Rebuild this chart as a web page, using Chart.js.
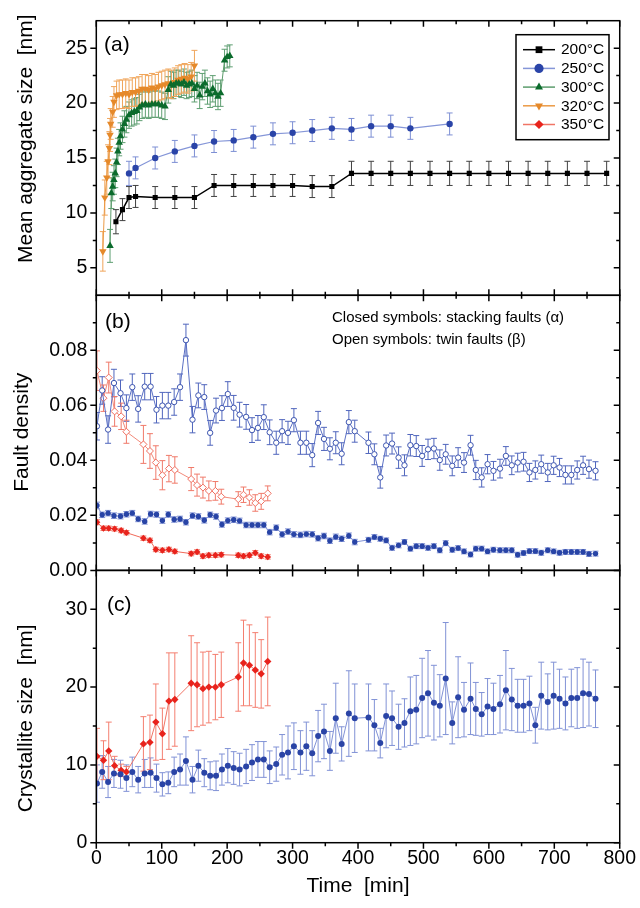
<!DOCTYPE html>
<html>
<head>
<meta charset="utf-8">
<script src="https://cdn.jsdelivr.net/npm/chart.js@4"></script>
<style>
  body { margin: 0; background: #fff; }
  canvas { display: block; }
</style>
</head>
<body>
<canvas id="grafico" width="640" height="908"></canvas>
<script>
  // Tick labels
  var xTicks = [0, 100, 200, 300, 400, 500, 600, 700, 800];
  var yTicksA = [5, 10, 15, 20, 25];
  var yTicksB = [0, 0.02, 0.04, 0.06, 0.08];
  var yTicksC = [0, 10, 20, 30];

  // Legend of panel (a)
  var temperatures = ['200°C', '250°C', '300°C', '320°C', '350°C'];

  // (a) Mean aggregate size [nm]
  var tA200 = [30, 40, 50, 60, 90, 120, 150, 180, 210, 240, 270, 300, 330, 360, 390, 420, 450, 480, 510, 540, 570, 600, 630, 660, 690, 720, 750, 780];
  var sizeA200 = [9.2, 10.3, 11.4, 11.5, 11.4, 11.4, 11.4, 12.5, 12.5, 12.5, 12.5, 12.5, 12.4, 12.4, 13.6, 13.6, 13.6, 13.6, 13.6, 13.6, 13.6, 13.6, 13.6, 13.6, 13.6, 13.6, 13.6, 13.6];
  var errA200 = [1.1, 1.0, 1.0, 1.0, 1.0, 1.0, 1.0, 1.0, 1.0, 1.0, 1.0, 1.0, 1.0, 1.0, 1.1, 1.1, 1.1, 1.1, 1.1, 1.1, 1.1, 1.1, 1.1, 1.1, 1.1, 1.1, 1.1, 1.1];

  var tA250 = [50, 60, 90, 120, 150, 180, 210, 240, 270, 300, 330, 360, 390, 420, 450, 480, 540];
  var sizeA250 = [13.6, 14.1, 15.0, 15.6, 16.1, 16.5, 16.6, 16.9, 17.2, 17.3, 17.5, 17.7, 17.6, 17.9, 17.9, 17.7, 18.1];
  var errA250 = [1.1, 1.0, 1.0, 1.0, 1.0, 1.0, 1.0, 1.0, 1.0, 1.0, 1.0, 1.0, 1.0, 1.0, 1.0, 1.0, 1.0];

  var tA300 = [21, 23, 25, 27, 29, 31, 33, 35, 37, 40, 43, 46, 50, 54, 58, 62, 66, 70, 75, 80, 85, 90, 95, 100, 105, 110, 114, 118, 122, 126, 130, 134, 138, 142, 146, 150, 154, 158, 162, 166, 170, 174, 178, 182, 186, 190, 196, 200, 204];
  var sizeA300 = [7.0, 11.8, 12.4, 13.0, 13.6, 14.6, 15.6, 16.4, 17.0, 17.6, 18.1, 18.5, 18.9, 19.1, 19.2, 19.3, 19.6, 19.8, 19.9, 19.8, 19.9, 19.9, 19.9, 19.8, 19.7, 21.2, 21.7, 21.6, 21.8, 21.8, 21.7, 21.9, 21.6, 21.7, 21.8, 21.3, 21.6, 20.7, 21.5, 21.8, 21.1, 20.8, 21.3, 20.9, 20.6, 20.9, 23.9, 24.2, 24.3];
  var errA300 = [1.5, 1.4, 1.3, 1.3, 1.3, 1.3, 1.2, 1.2, 1.2, 1.2, 1.2, 1.2, 1.2, 1.2, 1.2, 1.2, 1.2, 1.2, 1.2, 1.2, 1.2, 1.2, 1.2, 1.2, 1.2, 1.2, 1.2, 1.2, 1.2, 1.2, 1.2, 1.2, 1.2, 1.2, 1.2, 1.2, 1.2, 1.2, 1.2, 1.2, 1.2, 1.2, 1.2, 1.2, 1.2, 1.2, 1.0, 1.0, 1.0];

  var tA320 = [10, 13, 16, 18, 20, 21, 22, 25, 27, 31, 35, 40, 45, 50, 55, 60, 65, 70, 75, 80, 85, 90, 95, 100, 105, 110, 115, 120, 125, 130, 135, 140, 145, 150];
  var sizeA320 = [6.5, 11.4, 13.2, 14.7, 15.9, 17.1, 18.1, 19.2, 20.1, 20.7, 20.8, 20.8, 20.9, 20.8, 21.0, 21.0, 21.1, 21.3, 21.3, 21.2, 21.4, 21.3, 21.5, 21.6, 21.7, 21.8, 21.7, 21.9, 22.1, 22.2, 22.3, 22.2, 22.4, 23.4];
  var errA320 = [1.8, 1.6, 1.5, 1.5, 1.5, 1.5, 1.4, 1.4, 1.4, 1.3, 1.3, 1.3, 1.3, 1.3, 1.3, 1.3, 1.3, 1.3, 1.3, 1.3, 1.3, 1.3, 1.3, 1.3, 1.3, 1.3, 1.3, 1.3, 1.3, 1.3, 1.3, 1.3, 1.3, 1.4];

  // (b) Fault density and (c) crystallite size, 250°C
  var t250 = [1, 9, 18, 27, 37, 46, 55, 64, 74, 83, 92, 101, 110, 119, 128, 137, 147, 156, 165, 174, 183, 192, 201, 210, 219, 229, 238, 247, 256, 265, 275, 284, 293, 302, 312, 321, 330, 339, 348, 357, 366, 375, 386, 395,
    416, 425, 434, 443, 452, 462, 471, 480, 489, 498, 507, 516, 525, 534, 544, 553, 562, 572, 580, 589, 598, 607, 617, 626, 635, 644, 653, 662, 671, 680, 690, 699, 708, 717, 726, 735, 744, 753, 763];
  var twinB250 = [0.0524, 0.0654, 0.0512, 0.0681, 0.0644, 0.0590, 0.0666, 0.0587, 0.0668, 0.0668, 0.0584, 0.0599, 0.0599, 0.0612, 0.0666, 0.0837, 0.0548, 0.0636, 0.0630, 0.0500, 0.0581, 0.0590, 0.0641, 0.0591, 0.0566, 0.0558, 0.0510, 0.0518, 0.0557, 0.0502, 0.0464, 0.0506, 0.0500, 0.0546, 0.0464, 0.0464, 0.0419, 0.0536, 0.0478, 0.0442, 0.0464, 0.0424, 0.0539, 0.0506,
    0.0464, 0.0422, 0.0338, 0.0454, 0.0461, 0.0410, 0.0382, 0.0455, 0.0452, 0.0416, 0.0440, 0.0443, 0.0401, 0.0422, 0.0380, 0.0410, 0.0392, 0.0455, 0.0365, 0.0338, 0.0386, 0.0362, 0.0370, 0.0416, 0.0382, 0.0392, 0.0395, 0.0356, 0.0365, 0.0386, 0.0356, 0.0382, 0.0374, 0.0347, 0.0347, 0.0365, 0.0382, 0.0368, 0.0362];
  var errTwinB250 = [0.0050, 0.0050, 0.0050, 0.0050, 0.0048, 0.0048, 0.0048, 0.0048, 0.0048, 0.0048, 0.0048, 0.0048, 0.0048, 0.0048, 0.0048, 0.0058, 0.0048, 0.0045, 0.0045, 0.0045, 0.0045, 0.0045, 0.0045, 0.0045, 0.0045, 0.0045, 0.0045, 0.0045, 0.0045, 0.0045, 0.0042, 0.0042, 0.0042, 0.0042, 0.0042, 0.0042, 0.0042, 0.0042, 0.0042, 0.0040, 0.0040, 0.0040, 0.0042, 0.0040,
    0.0039, 0.0038, 0.0039, 0.0038, 0.0038, 0.0039, 0.0038, 0.0039, 0.0038, 0.0038, 0.0037, 0.0037, 0.0037, 0.0036, 0.0036, 0.0036, 0.0036, 0.0036, 0.0035, 0.0035, 0.0035, 0.0034, 0.0034, 0.0034, 0.0034, 0.0034, 0.0034, 0.0033, 0.0033, 0.0033, 0.0033, 0.0033, 0.0033, 0.0033, 0.0033, 0.0033, 0.0033, 0.0033, 0.0033];
  var stackB250 = [0.0236, 0.0202, 0.0208, 0.0199, 0.0197, 0.0204, 0.0208, 0.0187, 0.0178, 0.0205, 0.0203, 0.0181, 0.0203, 0.0185, 0.0187, 0.0175, 0.0199, 0.0196, 0.0182, 0.0202, 0.0196, 0.0167, 0.0181, 0.0184, 0.0180, 0.0165, 0.0165, 0.0165, 0.0165, 0.0139, 0.0155, 0.0131, 0.0141, 0.0131, 0.0129, 0.0132, 0.0131, 0.0117, 0.0125, 0.0108, 0.0122, 0.0115, 0.0126, 0.0103,
    0.0111, 0.0121, 0.0115, 0.0109, 0.0082, 0.0091, 0.0103, 0.0079, 0.0088, 0.0088, 0.0082, 0.0088, 0.0073, 0.0099, 0.0075, 0.0081, 0.0069, 0.0058, 0.0079, 0.0079, 0.0069, 0.0075, 0.0073, 0.0073, 0.0073, 0.0057, 0.0063, 0.0070, 0.0070, 0.0064, 0.0073, 0.0069, 0.0064, 0.0067, 0.0067, 0.0067, 0.0067, 0.0060, 0.0061];
  var errStackB250 = [0.0012, 0.0010, 0.0010, 0.0010, 0.0010, 0.0010, 0.0010, 0.0010, 0.0010, 0.0010, 0.0010, 0.0010, 0.0010, 0.0010, 0.0010, 0.0010, 0.0010, 0.0010, 0.0010, 0.0010, 0.0010, 0.0010, 0.0010, 0.0010, 0.0010, 0.0010, 0.0010, 0.0010, 0.0010, 0.0010, 0.0010, 0.0010, 0.0010, 0.0010, 0.0010, 0.0010, 0.0010, 0.0010, 0.0010, 0.0010, 0.0010, 0.0010, 0.0010, 0.0010,
    0.0009, 0.0009, 0.0009, 0.0009, 0.0009, 0.0009, 0.0009, 0.0009, 0.0009, 0.0009, 0.0009, 0.0009, 0.0009, 0.0009, 0.0009, 0.0009, 0.0009, 0.0009, 0.0009, 0.0009, 0.0009, 0.0009, 0.0009, 0.0009, 0.0009, 0.0009, 0.0009, 0.0009, 0.0009, 0.0009, 0.0009, 0.0009, 0.0009, 0.0009, 0.0009, 0.0009, 0.0009, 0.0009, 0.0009];
  var sizeC250 = [7.6, 9.1, 7.8, 8.9, 8.8, 8.3, 9.1, 8.1, 8.9, 9.0, 8.3, 7.5, 7.7, 9.1, 9.4, 10.5, 8.1, 9.9, 9.0, 8.6, 8.6, 9.4, 9.9, 9.6, 9.4, 9.8, 10.3, 10.7, 10.7, 9.7, 10.1, 11.3, 11.6, 12.4, 11.6, 12.4, 11.5, 13.7, 14.3, 11.8, 16.0, 12.7, 16.6, 16.0,
    16.1, 15.1, 12.8, 16.3, 16.0, 14.9, 15.4, 16.9, 17.1, 18.6, 19.2, 18.0, 17.6, 21.1, 15.4, 18.7, 17.1, 18.5, 17.2, 16.5, 17.5, 17.2, 17.8, 19.6, 18.4, 17.6, 17.6, 17.9, 15.1, 18.9, 18.1, 18.9, 18.5, 17.9, 18.6, 18.6, 19.2, 19.1, 18.5];
  var errC250 = [2.4, 2.1, 2.0, 1.8, 1.8, 1.7, 1.9, 1.7, 1.8, 1.9, 1.8, 1.5, 1.4, 1.9, 2.0, 3.1, 1.7, 2.0, 1.8, 1.8, 1.9, 2.0, 2.2, 2.1, 2.1, 2.2, 2.3, 2.3, 2.3, 2.1, 2.2, 2.6, 3.4, 3.0, 2.8, 3.1, 2.9, 3.3, 3.5, 2.5, 4.5, 2.2, 5.5, 4.4,
    4.3, 3.3, 1.9, 4.1, 3.5, 2.9, 3.1, 4.4, 4.4, 5.1, 5.5, 4.8, 4.0, 7.2, 2.7, 5.2, 3.5, 4.6, 3.4, 2.8, 3.6, 3.3, 3.7, 5.1, 4.0, 3.4, 3.4, 3.5, 2.3, 4.3, 3.6, 4.3, 3.8, 3.4, 3.7, 3.9, 4.4, 4.1, 3.7];

  // (b) Fault density and (c) crystallite size, 350°C
  var t350 = [1, 11, 19, 28, 38, 46, 72, 82, 91, 101, 111, 120, 145, 154, 163, 172, 182, 191, 217, 225, 234, 243, 252, 262];
  var twinB350 = [0.0726, 0.0626, 0.0701, 0.0578, 0.0560, 0.0504, 0.0458, 0.0434, 0.0392, 0.0346, 0.0370, 0.0365, 0.0332, 0.0310, 0.0301, 0.0289, 0.0289, 0.0268, 0.0259, 0.0275, 0.0265, 0.0245, 0.0251, 0.0280];
  var errTwinB350 = [0.0072, 0.0048, 0.0056, 0.0054, 0.0048, 0.0042, 0.0069, 0.0063, 0.0061, 0.0053, 0.0048, 0.0048, 0.0042, 0.0040, 0.0038, 0.0036, 0.0034, 0.0027, 0.0027, 0.0028, 0.0028, 0.0030, 0.0029, 0.0027];
  var stackB350 = [0.0175, 0.0153, 0.0153, 0.0151, 0.0145, 0.0137, 0.0117, 0.0109, 0.0076, 0.0073, 0.0076, 0.0069, 0.0061, 0.0067, 0.0052, 0.0055, 0.0055, 0.0057, 0.0055, 0.0052, 0.0055, 0.0064, 0.0052, 0.0049];
  var errStackB350 = [0.0009, 0.0008, 0.0008, 0.0008, 0.0008, 0.0008, 0.0008, 0.0008, 0.0008, 0.0008, 0.0008, 0.0008, 0.0008, 0.0008, 0.0008, 0.0008, 0.0008, 0.0008, 0.0008, 0.0008, 0.0008, 0.0008, 0.0008, 0.0008];
  var sizeC350 = [11.1, 10.6, 11.8, 9.9, 9.3, 9.1, 12.7, 12.9, 15.5, 14.0, 18.2, 18.4, 20.5, 20.3, 19.8, 20.0, 20.0, 20.3, 21.3, 23.1, 22.8, 22.2, 21.7, 23.3];
  var errC350 = [3.6, 2.5, 3.7, 1.2, 0.8, 0.7, 3.5, 3.5, 4.9, 3.3, 6.2, 6.0, 6.1, 5.4, 4.7, 4.6, 4.2, 4.2, 4.4, 5.5, 5.2, 4.8, 4.4, 5.7];

  var FONT = "'Liberation Sans', Arial, sans-serif";

  // Combine time and value arrays into points
  function makePoints(times, values) {
    return times.map(function (t, i) { return { x: t, y: values[i] }; });
  }

  // One dataset with its style
  function serie(label, axis, times, values, errors, s) {
    return {
      label: label,
      yAxisID: axis,
      data: makePoints(times, values),
      errors: errors,
      errorColor: s.err,
      showLine: true,
      borderColor: s.line,
      borderWidth: s.lw || 1,
      pointStyle: s.shape,
      pointRotation: s.rot || 0,
      pointRadius: s.r,
      pointBackgroundColor: s.fill,
      pointBorderColor: s.edge || s.fill,
      pointBorderWidth: s.edge ? 1 : 0,
      legend: s.legend
    };
  }

  var styles = {
    a200: { line: '#000000', lw: 1.5, err: '#404040', shape: 'rect', r: 3.6, fill: '#000000' },
    a250: { line: '#8596d8', lw: 1.2, err: '#7d8fd4', shape: 'circle', r: 3.2, fill: '#2a44a8' },
    a300: { line: '#5c9c6c', lw: 1, err: '#5f9f72', shape: 'triangle', r: 4.3, fill: '#0b6b2c' },
    a320: { line: '#eb9a45', lw: 1, err: '#f0a55a', shape: 'triangle', rot: 180, r: 4.3, fill: '#e5892a' },
    a350: { line: '#f07566', lw: 1, err: '#f07566', shape: 'rectRot', r: 4.3, fill: '#e8231c' },
    bTwin250: { line: '#5b70c4', err: '#5066bd', shape: 'circle', r: 2.7, fill: '#ffffff', edge: '#3d55b0' },
    bStack250: { line: '#7f90d4', err: '#7f90d4', shape: 'circle', r: 2.7, fill: '#2844a6' },
    bTwin350: { line: '#f28a7a', err: '#f07a6a', shape: 'rectRot', r: 3.5, fill: '#ffffff', edge: '#ef6f60' },
    bStack350: { line: '#f06a5a', err: '#f07a6a', shape: 'rectRot', r: 3.4, fill: '#e8231c' },
    c350: { line: '#f07566', err: '#f47f70', shape: 'rectRot', r: 3.7, fill: '#e8231c' },
    c250: { line: '#8192d6', err: '#8192d6', shape: 'circle', r: 3.0, fill: '#2a44a6' }
  };

  var dati = {
    datasets: [
      serie(temperatures[0], 'yA', tA200, sizeA200, errA200, styles.a200),
      serie(temperatures[1], 'yA', tA250, sizeA250, errA250, styles.a250),
      serie(temperatures[2], 'yA', tA300, sizeA300, errA300, styles.a300),
      serie(temperatures[3], 'yA', tA320, sizeA320, errA320, styles.a320),
      serie('250°C twin', 'yB', t250, twinB250, errTwinB250, styles.bTwin250),
      serie('350°C twin', 'yB', t350, twinB350, errTwinB350, styles.bTwin350),
      serie('250°C stacking', 'yB', t250, stackB250, errStackB250, styles.bStack250),
      serie('350°C stacking', 'yB', t350, stackB350, errStackB350, styles.bStack350),
      serie('250°C size', 'yC', t250, sizeC250, errC250, styles.c250),
      serie('350°C size', 'yC', t350, sizeC350, errC350, styles.c350)
    ]
  };

  // Vertical error bars with caps, drawn under the symbols
  var errorBars = {
    id: 'errorBars',
    beforeDatasetsDraw: function (chart) {
      var ctx = chart.ctx;
      chart.data.datasets.forEach(function (ds, i) {
        if (!ds.errors) return;
        var meta = chart.getDatasetMeta(i);
        var scale = chart.scales[ds.yAxisID];
        ctx.save();
        ctx.beginPath();
        ctx.rect(chart.chartArea.left, scale.top, chart.chartArea.right - chart.chartArea.left, scale.bottom - scale.top);
        ctx.clip();
        ctx.strokeStyle = ds.errorColor;
        ctx.lineWidth = 1;
        meta.data.forEach(function (pt, j) {
          var v = ds.data[j].y, e = ds.errors[j];
          var y1 = scale.getPixelForValue(v + e);
          var y2 = scale.getPixelForValue(v - e);
          ctx.beginPath();
          ctx.moveTo(pt.x, y1); ctx.lineTo(pt.x, y2);
          ctx.moveTo(pt.x - 3, y1); ctx.lineTo(pt.x + 3, y1);
          ctx.moveTo(pt.x - 3, y2); ctx.lineTo(pt.x + 3, y2);
          ctx.stroke();
        });
        ctx.restore();
      });
    }
  };

  // Minor ticks halfway between the major ones
  function minorTicks(ticks, min, max) {
    var out = [];
    var step = ticks[1].value - ticks[0].value;
    for (var i = 0; i < ticks.length; i++) {
      var m = ticks[i].value + step / 2;
      if (m < max) out.push(m);
      if (i === 0 && ticks[0].value - step / 2 > min) out.push(ticks[0].value - step / 2);
    }
    return out;
  }

  // Panel frames with ticks on all four sides
  var frames = {
    id: 'frames',
    afterDatasetsDraw: function (chart) {
      var ctx = chart.ctx;
      var area = chart.chartArea;
      var xs = chart.scales.x;
      var xMinor = minorTicks(xs.ticks, xs.min, xs.max);
      ctx.save();
      ctx.strokeStyle = '#000';
      ctx.lineWidth = 1.5;
      ['yA', 'yB', 'yC'].forEach(function (id) {
        var s = chart.scales[id];
        ctx.strokeRect(area.left, s.top, area.right - area.left, s.bottom - s.top);
        var yMinor = minorTicks(s.ticks, s.min, s.max);
        ctx.beginPath();
        s.ticks.forEach(function (t) {
          var y = s.getPixelForValue(t.value);
          ctx.moveTo(area.left - 6, y); ctx.lineTo(area.left, y);
          ctx.moveTo(area.right - 6, y); ctx.lineTo(area.right, y);
        });
        yMinor.forEach(function (v) {
          var y = s.getPixelForValue(v);
          ctx.moveTo(area.left - 3.5, y); ctx.lineTo(area.left, y);
          ctx.moveTo(area.right - 3.5, y); ctx.lineTo(area.right, y);
        });
        var downOut = id === 'yC';
        xs.ticks.forEach(function (t) {
          var x = xs.getPixelForValue(t.value);
          ctx.moveTo(x, s.top); ctx.lineTo(x, s.top + 6);
          ctx.moveTo(x, s.bottom); ctx.lineTo(x, downOut ? s.bottom + 6 : s.bottom - 6);
        });
        xMinor.forEach(function (v) {
          var x = xs.getPixelForValue(v);
          ctx.moveTo(x, s.top); ctx.lineTo(x, s.top + 3.5);
          ctx.moveTo(x, s.bottom); ctx.lineTo(x, downOut ? s.bottom + 3.5 : s.bottom - 3.5);
        });
        ctx.stroke();
      });
      ctx.restore();
    }
  };

  // Axis titles, panel letters, legend and note
  var texts = {
    id: 'texts',
    afterDraw: function (chart) {
      var ctx = chart.ctx;
      var a = chart.scales.yA, b = chart.scales.yB, c = chart.scales.yC;
      ctx.save();
      ctx.fillStyle = '#000';
      ctx.textBaseline = 'middle';

      // y titles
      var titles = [['Mean aggregate size  [nm]', 26, a.top + 118], ['Fault density', 22, b.top + 137], ['Crystallite size  [nm]', 26, c.top + 148]];
      ctx.font = '21px ' + FONT;
      ctx.textAlign = 'center';
      titles.forEach(function (t) {
        ctx.save();
        ctx.translate(t[1], t[2]);
        ctx.rotate(-Math.PI / 2);
        ctx.fillText(t[0], 0, 0);
        ctx.restore();
      });
      ctx.fillText('Time  [min]', (chart.chartArea.left + chart.chartArea.right) / 2, 886);

      // panel letters
      ctx.textAlign = 'left';
      ctx.fillText('(a)', 104, a.top + 25);
      ctx.fillText('(b)', 105, b.top + 27);
      ctx.fillText('(c)', 107, c.top + 35);

      // note in panel (b)
      ctx.font = '15px ' + FONT;
      ctx.fillText('Closed symbols: stacking faults (α)', 332, b.top + 23);
      ctx.fillText('Open symbols: twin faults (β)', 332, b.top + 45);

      // legend box of panel (a)
      var lx = 516, ly = a.top + 14, lw = 93, lh = 105;
      ctx.lineWidth = 1.5;
      ctx.strokeStyle = '#000';
      ctx.strokeRect(lx, ly, lw, lh);
      ctx.font = '15.5px ' + FONT;
      var legendStyles = [styles.a200, styles.a250, styles.a300, styles.a320, styles.a350];
      temperatures.forEach(function (name, i) {
        var st = legendStyles[i];
        var y = ly + 15 + i * 18.7;
        ctx.strokeStyle = st.line;
        ctx.lineWidth = 1.5;
        ctx.beginPath();
        ctx.moveTo(lx + 7, y); ctx.lineTo(lx + 39, y);
        ctx.stroke();
        ctx.fillStyle = st.fill;
        ctx.strokeStyle = st.fill;
        Chart.helpers.drawPoint(ctx, { pointStyle: st.shape, radius: st.shape === 'rect' ? 4.8 : 4.6, rotation: st.rot || 0, borderWidth: 0 }, lx + 23, y);
        ctx.fillStyle = '#000';
        ctx.fillText(name, lx + 45, y + 0.5);
      });
      ctx.restore();
    }
  };

  // y axis of one panel
  function panelAxis(min, max, tickValues, weight, digits) {
    return {
      type: 'linear',
      position: 'left',
      stack: 'panels',
      stackWeight: weight,
      min: min,
      max: max,
      afterBuildTicks: function (s) { s.ticks = tickValues.map(function (v) { return { value: v }; }); },
      afterFit: function (s) { s.width = 96.3; },
      grid: { display: false, drawTicks: false },
      border: { display: false },
      ticks: {
        color: '#000',
        padding: 9,
        font: { family: FONT, size: 19.5 },
        callback: function (v) { return v.toFixed(digits); }
      }
    };
  }

  var opzioni = {
    responsive: false,
    animation: false,
    layout: { padding: { top: 15, right: 17.3, left: 0, bottom: 0 } },
    plugins: { legend: { display: false }, tooltip: { enabled: false } },
    scales: {
      x: {
        type: 'linear',
        position: 'bottom',
        min: 0,
        max: 800,
        afterBuildTicks: function (s) { s.ticks = xTicks.map(function (v) { return { value: v }; }); },
        afterFit: function (s) { s.height = 65.3; },
        grid: { display: false, drawTicks: false },
        border: { display: false },
        ticks: { color: '#000', padding: 4, maxRotation: 0, font: { family: FONT, size: 19.5 } }
      },
      yC: panelAxis(0, 35, yTicksC, 274.2, 0),
      yB: panelAxis(0, 0.1, yTicksB, 277, 2),
      yA: panelAxis(2.5, 27.5, yTicksA, 276.5, 0)
    }
  };

  var grafico = new Chart(document.getElementById('grafico').getContext('2d'), {
    type: 'scatter',
    data: dati,
    options: opzioni,
    plugins: [errorBars, frames, texts]
  });
</script>
</body>
</html>
